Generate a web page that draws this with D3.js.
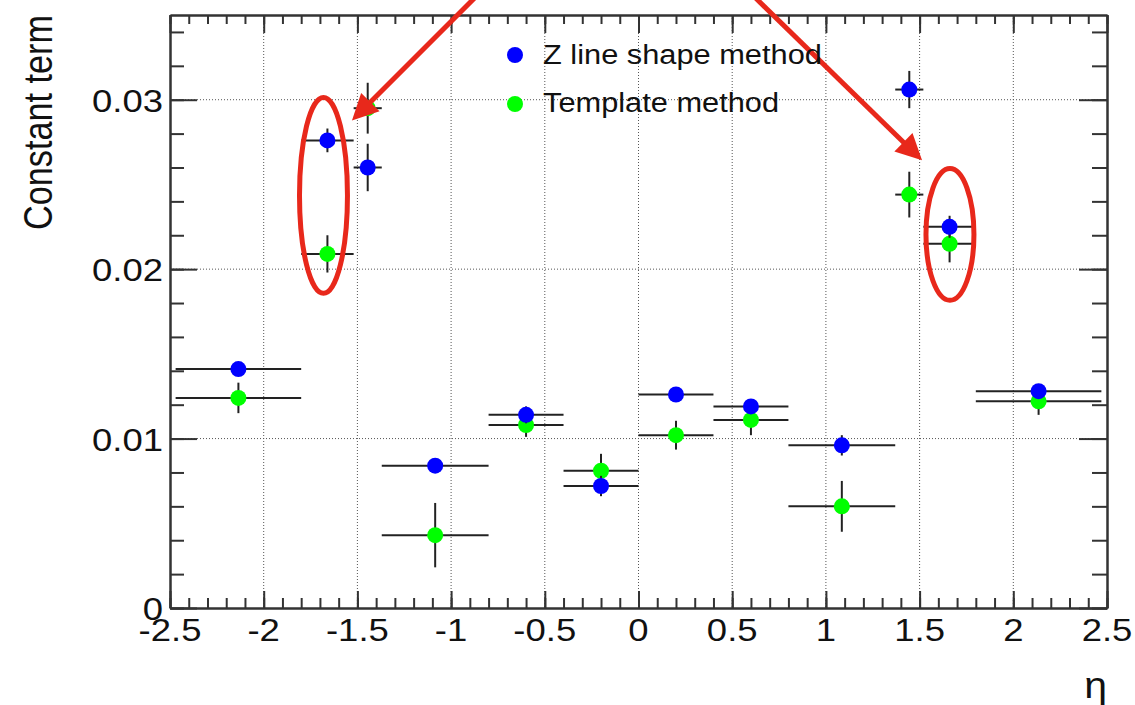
<!DOCTYPE html>
<html>
<head>
<meta charset="utf-8">
<script src="https://cdn.jsdelivr.net/npm/d3@7"></script>
<style>
body { margin: 0; background: #fff; }
svg { display: block; }
.axis path, .axis line { stroke: #333; stroke-width: 2; }
.grid line { stroke: #555; stroke-width: 1; stroke-dasharray: 1,2; }
text { font-family: "Liberation Sans", Arial, sans-serif; fill: #111; }
</style>
</head>
<body>
<svg width="1135" height="705"></svg>
<script>
// eta bins
const binEdges = [-2.47, -1.8, -1.52, -1.37, -0.8, -0.4, 0, 0.4, 0.8, 1.37, 1.52, 1.8, 2.47];

// Z line shape method
const zLineShape    = [0.0141, 0.0276, 0.0260, 0.0084, 0.0114, 0.0072, 0.0126, 0.0119, 0.0096, 0.0306, 0.0225, 0.0128];
const zLineShapeErr = [0.0003, 0.0007, 0.0014, 0.0003, 0.0005, 0.0006, 0.0003, 0.0003, 0.0006, 0.0011, 0.00065, 0.0003];

// Template method
const template    = [0.0124, 0.0209, 0.0295, 0.0043, 0.0108, 0.0081, 0.0102, 0.0111, 0.0060, 0.0244, 0.0215, 0.0122];
const templateErr = [0.0009, 0.0011, 0.0015, 0.0019, 0.0007, 0.0010, 0.00085, 0.0009, 0.0015, 0.00135, 0.0011, 0.0008];

const xTickValues = [-2.5, -2, -1.5, -1, -0.5, 0, 0.5, 1, 1.5, 2, 2.5];
const xTickLabels = ['-2.5', '-2', '-1.5', '-1', '-0.5', '0', '0.5', '1', '1.5', '2', '2.5'];
const yTickValues = [0, 0.01, 0.02, 0.03];
const yTickLabels = ['0', '0.01', '0.02', '0.03'];
const legendLabels = ['Z line shape method', 'Template method'];

// red hand-drawn annotations, in data coordinates
const arrows = [
    {from: [-0.83, 0.0365], to: [-1.529, 0.02877]},
    {from: [0.579, 0.0365], to: [1.513, 0.02642]}
];
const ellipses = [
    {cx: -1.681, cy: 0.02435, rx: 0.128, ry: 0.00578},
    {cx: 1.662, cy: 0.02205, rx: 0.128, ry: 0.00389}
];

const svg = d3.select('svg');
const margin = {top: 15, right: 28, bottom: 97, left: 170};
const width = +svg.attr('width');
const height = +svg.attr('height');
const innerWidth = width - margin.left - margin.right;
const innerHeight = height - margin.top - margin.bottom;

// text in the picture is a little wider than the font, widen it with textLength
const widen = sel => sel.each(function () {
    const len = this.getComputedTextLength();
    d3.select(this)
        .attr('textLength', len * 1.14)
        .attr('lengthAdjust', 'spacingAndGlyphs');
});

const xScale = d3.scaleLinear().domain([-2.5, 2.5]).range([0, innerWidth]);
const yScale = d3.scaleLinear().domain([0, 0.035]).range([innerHeight, 0]);

const g = svg.append('g')
    .attr('transform', `translate(${margin.left},${margin.top})`);

// dotted grid
const grid = g.append('g').attr('class', 'grid');
grid.selectAll('.vx').data(xTickValues.slice(1, -1))
    .enter().append('line')
    .attr('x1', d => xScale(d)).attr('x2', d => xScale(d))
    .attr('y1', 0).attr('y2', innerHeight);
grid.selectAll('.hy').data(yTickValues.slice(1))
    .enter().append('line')
    .attr('x1', 0).attr('x2', innerWidth)
    .attr('y1', d => yScale(d)).attr('y2', d => yScale(d));

// ticks on all four sides, pointing inwards
const xMinor = d3.range(-25, 26).map(i => i / 10);
const yMinor = d3.range(0, 36, 2).map(i => i / 1000);

const addAxis = (axis, values, size, transform) => {
    g.append('g').attr('class', 'axis')
        .attr('transform', transform)
        .call(axis.tickValues(values).tickSize(size).tickSizeOuter(0).tickFormat(''));
};
addAxis(d3.axisBottom(xScale), xMinor, -10, `translate(0,${innerHeight})`);
addAxis(d3.axisBottom(xScale), xTickValues, -17, `translate(0,${innerHeight})`);
addAxis(d3.axisTop(xScale), xMinor, -9, 'translate(0,0)');
addAxis(d3.axisTop(xScale), xTickValues, -18, 'translate(0,0)');
addAxis(d3.axisLeft(yScale), yMinor, -14, 'translate(0,0)');
addAxis(d3.axisLeft(yScale), yTickValues, -27, 'translate(0,0)');
addAxis(d3.axisRight(yScale), yMinor, -15, `translate(${innerWidth},0)`);
addAxis(d3.axisRight(yScale), yTickValues, -28, `translate(${innerWidth},0)`);

// tick labels
g.selectAll('.xlabel').data(xTickValues)
    .enter().append('text')
    .attr('x', d => xScale(d))
    .attr('y', innerHeight + 33)
    .attr('text-anchor', 'middle')
    .attr('font-size', 32)
    .text((d, i) => xTickLabels[i])
    .call(widen);

g.selectAll('.ylabel').data(yTickValues)
    .enter().append('text')
    .attr('x', -7)
    .attr('y', d => yScale(d) + 12)
    .attr('text-anchor', 'end')
    .attr('font-size', 32)
    .text((d, i) => yTickLabels[i])
    .call(widen);

// axis titles
svg.append('text')
    .attr('transform', `translate(52,${margin.top}) rotate(-90)`)
    .attr('text-anchor', 'end')
    .attr('font-size', 40)
    .attr('textLength', 215)
    .attr('lengthAdjust', 'spacingAndGlyphs')
    .text('Constant term');

svg.append('text')
    .attr('x', margin.left + innerWidth)
    .attr('y', 698)
    .attr('text-anchor', 'end')
    .attr('font-family', '"Liberation Serif", serif')
    .attr('font-size', 36)
    .text('η')
    .call(widen);

// data: template first, Z line shape drawn over it
const centers = binEdges.slice(0, -1).map((lo, i) => (lo + binEdges[i + 1]) / 2);
const series = [
    {values: template, errors: templateErr, color: '#00ff00'},
    {values: zLineShape, errors: zLineShapeErr, color: '#0000ff'}
];

series.forEach(s => {
    const sg = g.append('g');
    sg.selectAll('.ex').data(s.values)
        .enter().append('line')
        .attr('x1', (d, i) => xScale(binEdges[i]))
        .attr('x2', (d, i) => xScale(binEdges[i + 1]))
        .attr('y1', d => yScale(d)).attr('y2', d => yScale(d))
        .attr('stroke', '#222').attr('stroke-width', 2);
    sg.selectAll('.ey').data(s.values)
        .enter().append('line')
        .attr('x1', (d, i) => xScale(centers[i]))
        .attr('x2', (d, i) => xScale(centers[i]))
        .attr('y1', (d, i) => yScale(d - s.errors[i]))
        .attr('y2', (d, i) => yScale(d + s.errors[i]))
        .attr('stroke', '#222').attr('stroke-width', 2);
    sg.selectAll('circle').data(s.values)
        .enter().append('circle')
        .attr('cx', (d, i) => xScale(centers[i]))
        .attr('cy', d => yScale(d))
        .attr('r', 8)
        .attr('fill', s.color);
});

// legend
const legend = svg.append('g');
const legendColors = ['#0000ff', '#00ff00'];
legendLabels.forEach((label, i) => {
    legend.append('circle')
        .attr('cx', 515).attr('cy', 55 + i * 49)
        .attr('r', 8).attr('fill', legendColors[i]);
    legend.append('text')
        .attr('x', 543)
        .attr('y', 63.5 + i * 48.5)
        .attr('font-size', 27)
        .text(label)
        .call(widen);
});

// red annotations
const red = '#e8281b';
const anno = g.append('g');
ellipses.forEach(e => {
    anno.append('ellipse')
        .attr('cx', xScale(e.cx)).attr('cy', yScale(e.cy))
        .attr('rx', xScale(e.cx + e.rx) - xScale(e.cx))
        .attr('ry', yScale(e.cy - e.ry) - yScale(e.cy))
        .attr('fill', 'none').attr('stroke', red).attr('stroke-width', 5);
});
arrows.forEach(a => {
    const x0 = xScale(a.from[0]), y0 = yScale(a.from[1]);
    const x1 = xScale(a.to[0]), y1 = yScale(a.to[1]);
    const len = Math.hypot(x1 - x0, y1 - y0);
    const ux = (x1 - x0) / len, uy = (y1 - y0) / len;
    const headLen = 26, headW = 13;
    const bx = x1 - ux * headLen, by = y1 - uy * headLen;
    anno.append('line')
        .attr('x1', x0).attr('y1', y0)
        .attr('x2', bx + ux * 4).attr('y2', by + uy * 4)
        .attr('stroke', red).attr('stroke-width', 5);
    anno.append('polygon')
        .attr('points', [
            [x1, y1],
            [bx - uy * headW, by + ux * headW],
            [bx + uy * headW, by - ux * headW]
        ].map(p => p.join(',')).join(' '))
        .attr('fill', red);
});
</script>
</body>
</html>
